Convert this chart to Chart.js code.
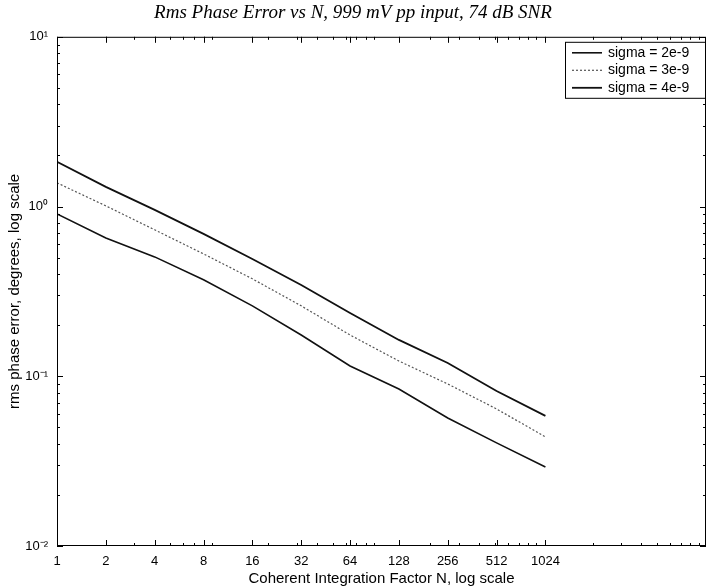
<!DOCTYPE html>
<html lang="en">
<head>
<meta charset="UTF-8">
<title>Rms Phase Error vs N</title>
<script src="https://cdn.jsdelivr.net/npm/chart.js"></script>
<style>
  html, body { margin: 0; padding: 0; background: #fff; }
</style>
</head>
<body>
<canvas id="phaseChart" width="708" height="588"></canvas>
<script>
// coherent integration factor N (x axis)
const nValues = [1, 2, 4, 8, 16, 32, 64, 128, 256, 512, 1024];

// rms phase error in degrees
const sigma2e9 = [0.905, 0.653, 0.505, 0.370, 0.260, 0.175, 0.115, 0.0842, 0.0568, 0.0405, 0.0292];
const sigma3e9 = [1.379, 1.009, 0.729, 0.526, 0.375, 0.260, 0.175, 0.123, 0.0901, 0.0642, 0.0439];
const sigma4e9 = [1.834, 1.306, 0.956, 0.690, 0.491, 0.345, 0.236, 0.1637, 0.1198, 0.0819, 0.0584];

const seriesLabels = ['sigma = 2e-9', 'sigma = 3e-9', 'sigma = 4e-9'];

// tick values / labels
const xTickValues = [1, 2, 4, 8, 16, 32, 64, 128, 256, 512, 1024];
const yTickValues = [0.01, 0.1, 1, 10];
const yTickLabels = ['10⁻²', '10⁻¹', '10⁰', '10¹'];

// matlab style log minor ticks
function minorTicks(decades) {
    const out = [];
    decades.forEach(d => { for (let m = 2; m <= 9; m++) out.push(m * d); });
    return out;
}
const xMinor = minorTicks([1, 10, 100, 1000]);
const yMinor = minorTicks([0.01, 0.1, 1]);

const sans = '"Liberation Sans", Arial, sans-serif';

// box around the axes, inward ticks, and the legend inside the plot
const frameAndLegend = {
    id: 'frameAndLegend',
    afterDatasetsDraw(chart) {
        const { ctx, chartArea: a, scales: { x, y } } = chart;
        ctx.save();
        ctx.strokeStyle = '#000';
        ctx.lineWidth = 1;
        ctx.strokeRect(a.left + 0.5, a.top + 0.5, a.right - a.left - 1, a.bottom - a.top - 1);

        ctx.beginPath();
        const xTick = (v, len) => {
            const px = Math.round(x.getPixelForValue(v)) + 0.5;
            ctx.moveTo(px, a.bottom); ctx.lineTo(px, a.bottom - len);
            ctx.moveTo(px, a.top); ctx.lineTo(px, a.top + len);
        };
        const yTick = (v, len) => {
            const py = Math.round(y.getPixelForValue(v)) + 0.5;
            ctx.moveTo(a.left, py); ctx.lineTo(a.left + len, py);
            ctx.moveTo(a.right, py); ctx.lineTo(a.right - len, py);
        };
        xMinor.forEach(v => xTick(v, 3));
        xTickValues.forEach(v => xTick(v, 6));
        yMinor.forEach(v => yTick(v, 3));
        yTickValues.forEach(v => yTick(v, 6));
        ctx.stroke();

        // legend box
        const bw = 140, bh = 56;
        const bx = a.right - bw - 1, by = a.top + 5;
        ctx.fillStyle = '#fff';
        ctx.fillRect(bx, by, bw, bh);
        ctx.strokeRect(bx + 0.5, by + 0.5, bw, bh);
        ctx.font = '14px ' + sans;
        ctx.textBaseline = 'middle';
        ctx.textAlign = 'left';
        chart.data.datasets.forEach((ds, i) => {
            const ry = by + 11 + i * 17.5;
            ctx.beginPath();
            ctx.strokeStyle = ds.borderColor;
            ctx.lineWidth = ds.borderWidth;
            ctx.setLineDash(ds.borderDash || []);
            ctx.moveTo(bx + 7, ry);
            ctx.lineTo(bx + 37, ry);
            ctx.stroke();
            ctx.setLineDash([]);
            ctx.fillStyle = '#000';
            ctx.fillText(ds.label, bx + 43, ry);
        });
        ctx.restore();
    }
};

const ctx = document.getElementById('phaseChart').getContext('2d');
const phaseChart = new Chart(ctx, {
    type: 'line',
    data: {
        labels: nValues,
        datasets: [
            {
                label: seriesLabels[0],
                data: nValues.map((n, i) => ({ x: n, y: sigma2e9[i] })),
                borderColor: '#111',
                borderWidth: 1.6,
                pointRadius: 0,
                fill: false
            },
            {
                label: seriesLabels[1],
                data: nValues.map((n, i) => ({ x: n, y: sigma3e9[i] })),
                borderColor: '#555',
                borderWidth: 1.2,
                borderDash: [2, 2],
                pointRadius: 0,
                fill: false
            },
            {
                label: seriesLabels[2],
                data: nValues.map((n, i) => ({ x: n, y: sigma4e9[i] })),
                borderColor: '#111',
                borderWidth: 1.8,
                pointRadius: 0,
                fill: false
            }
        ]
    },
    options: {
        responsive: false,
        animation: false,
        layout: { padding: { left: 0, right: 2, top: 0, bottom: 0 } },
        plugins: {
            legend: { display: false },
            tooltip: { enabled: false },
            title: {
                display: true,
                text: 'Rms Phase Error vs N, 999 mV pp input, 74 dB SNR',
                color: '#000',
                font: { family: '"Liberation Serif", "Times New Roman", serif', size: 19, style: 'italic', weight: 'normal' },
                padding: { top: 2, bottom: 12 }
            }
        },
        scales: {
            x: {
                type: 'logarithmic',
                min: 1,
                max: 10000,
                afterBuildTicks: scale => { scale.ticks = xTickValues.map(v => ({ value: v })); },
                afterFit: scale => { scale.height = 42; },
                ticks: {
                    autoSkip: false,
                    maxRotation: 0,
                    padding: 8,
                    color: '#000',
                    font: { family: sans, size: 13 },
                    callback: v => String(v)
                },
                grid: { display: false, drawTicks: false },
                border: { display: false },
                title: {
                    display: true,
                    text: 'Coherent Integration Factor N, log scale',
                    color: '#000',
                    font: { family: sans, size: 15 },
                    padding: { top: 0, bottom: 0 }
                }
            },
            y: {
                type: 'logarithmic',
                min: 0.01,
                max: 10,
                afterBuildTicks: scale => { scale.ticks = yTickValues.map(v => ({ value: v })); },
                afterFit: scale => { scale.width = 57; },
                ticks: {
                    padding: 9,
                    color: '#000',
                    font: { family: sans, size: 13 },
                    callback: (v) => yTickLabels[yTickValues.indexOf(v)]
                },
                grid: { display: false, drawTicks: false },
                border: { display: false },
                title: {
                    display: true,
                    text: 'rms phase error, degrees, log scale',
                    color: '#000',
                    font: { family: sans, size: 15 },
                    padding: { top: 6, bottom: 0 }
                }
            }
        }
    },
    plugins: [frameAndLegend]
});
</script>
</body>
</html>
